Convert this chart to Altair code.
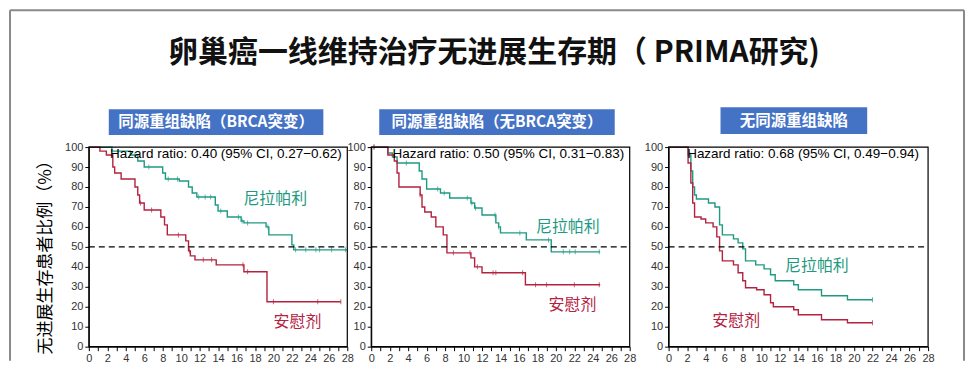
import altair as alt
import pandas as pd

TEAL = "#1e9a82"
RED = "#b3223f"
BLUE = "#4472c4"
CJK = "Noto Sans CJK SC"
LAT = "Liberation Sans"

MAIN_TITLE = "卵巢癌一线维持治疗无进展生存期（ PRIMA研究)"
Y_TITLE = "无进展生存患者比例（%）"
ARM_T = "尼拉帕利"
ARM_R = "安慰剂"

HEADERS = ["同源重组缺陷（BRCA突变）", "同源重组缺陷（无BRCA突变）", "无同源重组缺陷"]
HR_TEXT = [
    "Hazard ratio: 0.40 (95% CI, 0.27−0.62)",
    "Hazard ratio: 0.50 (95% CI, 0.31−0.83)",
    "Hazard ratio: 0.68 (95% CI, 0.49−0.94)",
]

# Panel 1: HRD with BRCA mutation
P1_T_time = [0, 2.5, 4.5, 5.3, 6.0, 8.0, 8.3, 9.8, 10.8, 11.2, 11.7, 13.7, 14.0, 15.0, 16.5, 16.8, 19.2, 19.5, 22.0, 22.2, 28.0]
P1_T_surv = [100, 98, 96, 93, 90, 87, 84, 83, 80, 77, 75, 71, 68, 65, 63, 62, 60, 56, 51, 48.5, 48.5]
P1_R_time = [0, 1.2, 1.9, 2.6, 2.8, 3.5, 5.0, 5.3, 5.5, 6.0, 7.8, 8.2, 8.5, 10.5, 10.8, 11.0, 11.5, 13.8, 16.8, 19.3, 27.3]
P1_R_surv = [100, 98, 96, 90, 87, 84, 80, 76, 72, 68.5, 65, 61, 56, 53, 48, 45.5, 43.5, 41, 37.5, 22.5, 22.5]
P1_T_cens = [5.0, 6.5, 8.6, 9.6, 11.9, 12.6, 13.2, 14.3, 16.2, 16.6, 17.2, 19.4, 22.4, 23.5, 24.6, 25.0, 26.3, 27.8]
P1_R_cens = [5.6, 6.8, 9.7, 10.9, 12.4, 13.3, 16.7, 17.2, 20.0, 24.8, 27.3]

# Panel 2: HRD without BRCA mutation
P2_T_time = [0, 1.8, 2.3, 2.8, 5.2, 5.5, 6.0, 7.5, 8.5, 10.8, 11.2, 12.0, 13.5, 13.8, 14.0, 16.8, 19.5, 24.8]
P2_T_surv = [100, 97, 95, 92, 88, 84, 79, 77, 74.5, 72, 69.5, 66, 62, 60, 57, 53.5, 47.5, 47.5]
P2_R_time = [0, 1.8, 2.5, 2.8, 3.0, 5.3, 5.5, 5.8, 6.5, 7.0, 7.8, 8.2, 10.8, 11.2, 12.0, 16.7, 24.8]
P2_R_surv = [100, 96, 93, 87, 80, 76, 70, 67.5, 65, 60, 56, 47, 44.5, 40, 37, 31, 31]
P2_T_cens = [0.3, 3.8, 7.2, 7.9, 10.4, 10.9, 11.3, 13.4, 13.8, 16.1, 19.2, 20.8, 21.5, 22.1, 24.7]
P2_R_cens = [0.3, 5.3, 8.9, 10.7, 11.5, 13.2, 13.5, 16.4, 17.8, 19.0, 22.0, 24.7]

# Panel 3: HR proficient
P3_T_time = [0, 2.1, 2.4, 2.6, 2.8, 3.0, 4.3, 5.0, 5.5, 5.8, 7.0, 7.5, 8.0, 8.3, 9.4, 10.3, 11.0, 11.5, 13.5, 14.0, 16.5, 19.3, 22.0]
P3_T_surv = [100, 96, 88, 80, 76, 74, 72, 70, 61, 56, 54, 52, 49, 43, 41, 39, 36, 33, 31, 28.5, 25.5, 23.5, 23.5]
P3_R_time = [0, 2.1, 2.4, 2.6, 2.8, 3.5, 4.0, 4.8, 5.2, 5.5, 5.8, 7.0, 7.5, 8.0, 8.3, 9.5, 10.3, 11.0, 11.3, 13.5, 14.0, 16.5, 19.3, 22.0]
P3_R_surv = [100, 92, 82, 72, 65, 64, 62, 60, 55, 48, 43, 41, 37, 33, 29.5, 28.5, 26, 22, 20, 18.5, 16, 13.5, 12, 12]
P3_T_cens = [2.3, 22.0]
P3_R_cens = [22.0]

# label positions (month, percent)
LAB_T = [(20.2, 74), (21.3, 60), (16.0, 40.5)]
LAB_R = [(22.6, 12.5), (21.8, 21), (7.3, 13)]
HR_X = [2.3, 2.3, 2.0]

X_TICKS = list(range(0, 29))
Y_TICKS = list(range(0, 101, 10))


def step_at(times, surv, t):
    v = surv[0]
    for ti, si in zip(times, surv):
        if ti <= t:
            v = si
    return v


def panel(tt, ts, rt, rs, tc, rc, idx, plot_w, width, header_box, first=False):
    curves = pd.DataFrame(
        {"t": tt + rt, "s": ts + rs, "grp": [ARM_T] * len(tt) + [ARM_R] * len(rt)}
    )
    cens = pd.DataFrame(
        {
            "t": tc + rc,
            "s": [step_at(tt, ts, c) for c in tc] + [step_at(rt, rs, c) for c in rc],
            "grp": [ARM_T] * len(tc) + [ARM_R] * len(rc),
        }
    )
    xs = alt.Scale(domain=[0, 28], nice=False, range=[0, plot_w])
    ys = alt.Scale(domain=[0, 100], nice=False)
    col = alt.Color("grp:N", scale=alt.Scale(domain=[ARM_T, ARM_R], range=[TEAL, RED]), legend=None)
    yaxis = alt.Axis(
        values=Y_TICKS,
        tickCount=11,
        title=Y_TITLE if first else "",
        titleFont=CJK,
        titleFontSize=17,
        titleFontWeight="normal",
        titleColor="black",
        titlePadding=10,
        titleY=106,
        labelOverlap=False,
        labelBound=False,
        labelFlush=False,
    )
    xaxis = alt.Axis(
        values=X_TICKS,
        tickCount=29,
        title="",
        labelOverlap=False,
        labelBound=False,
        labelFlush=False,
        labelExpr="datum.value % 2 === 0 ? datum.label : ''",
    )
    X = alt.X("t:Q", scale=xs, axis=xaxis)
    Y = alt.Y("s:Q", scale=ys, axis=yaxis)
    lines = alt.Chart(curves).mark_line(interpolate="step-after", strokeWidth=1.4).encode(
        x=X, y=Y, color=col, detail="grp:N"
    )
    ticks = alt.Chart(cens).mark_tick(orient="vertical", size=5, thickness=1).encode(
        x=X, y=Y, color=col
    )
    ref = alt.Chart(pd.DataFrame({"t": [0], "t2": [28], "s": [50]})).mark_rule(
        color="black", strokeDash=[6, 4], strokeWidth=1.4
    ).encode(x=X, x2="t2:Q", y=Y)
    hr = alt.Chart(pd.DataFrame({"t": [HR_X[idx]], "s": [96.7], "txt": [HR_TEXT[idx]]})).mark_text(
        align="left", baseline="middle", font=LAT, fontSize=13.5, color="black"
    ).encode(x=X, y=Y, text="txt:N")
    labs = pd.DataFrame(
        {
            "t": [LAB_T[idx][0], LAB_R[idx][0]],
            "s": [LAB_T[idx][1], LAB_R[idx][1]],
            "txt": [ARM_T, ARM_R],
            "grp": [ARM_T, ARM_R],
        }
    )
    lab = alt.Chart(labs).mark_text(font=CJK, fontSize=16, baseline="middle").encode(
        x=X, y=Y, text="txt:N", color=col
    )
    one = pd.DataFrame({"a": [0]})
    frame = alt.Chart(one).mark_rect(fillOpacity=0, stroke="black", strokeWidth=1.2).encode(
        x=alt.value(0), x2=alt.value(plot_w), y=alt.value(0), y2=alt.value(200)
    )
    hx, hx2, hy, hy2 = header_box
    hrect = alt.Chart(one).mark_rect(color=BLUE).encode(
        x=alt.value(hx), x2=alt.value(hx2), y=alt.value(hy), y2=alt.value(hy2)
    )
    htext = alt.Chart(one).mark_text(
        font=CJK, fontSize=15.5, fontWeight="bold", color="white", baseline="middle"
    ).encode(x=alt.value((hx + hx2) / 2), y=alt.value((hy + hy2) / 2), text=alt.value(HEADERS[idx]))
    layers = [lines, ticks, ref, hr, lab, frame, hrect, htext]
    if first:
        bc = "#8a8a8a"
        top = alt.Chart(one).mark_rule(color=bc, strokeWidth=2).encode(
            x=alt.value(-79), x2=alt.value(877), y=alt.value(-137)
        )
        left = alt.Chart(one).mark_rule(color=bc, strokeWidth=2).encode(
            x=alt.value(-79), y=alt.value(-137), y2=alt.value(214)
        )
        right = alt.Chart(one).mark_rule(color=bc, strokeWidth=2).encode(
            x=alt.value(877), y=alt.value(-137), y2=alt.value(214)
        )
        title = alt.Chart(one).mark_text(
            font=CJK, fontSize=30, fontWeight="bold", color="#111111", baseline="middle"
        ).encode(x=alt.value(406), y=alt.value(-94), text=alt.value(MAIN_TITLE))
        layers += [top, left, right, title]
    return alt.layer(*layers).properties(width=width, height=200)


p1 = panel(P1_T_time, P1_T_surv, P1_R_time, P1_R_surv, P1_T_cens, P1_R_cens, 0, 259, 259, (20, 235, -38, -12), first=True)
p2 = panel(P2_T_time, P2_T_surv, P2_R_time, P2_R_surv, P2_T_cens, P2_R_cens, 1, 259, 274, (8, 244, -38, -12))
p3 = panel(P3_T_time, P3_T_surv, P3_R_time, P3_R_surv, P3_T_cens, P3_R_cens, 2, 260, 260, (52, 199, -40, -13))

chart = (
    alt.hconcat(p1, p2, p3, spacing=24, bounds="flush")
    .properties(padding=0, background="white")
    .configure_view(stroke="transparent")
    .configure_axis(
        domainColor="black",
        tickColor="black",
        labelColor="#333333",
        labelFont=LAT,
        labelFontSize=11,
        tickSize=4,
        grid=False,
        labelPadding=2,
        labelOverlap=False,
        labelFlush=False,
    )
)

chart.save("out.html", embed_options={"renderer": "svg", "actions": False})
